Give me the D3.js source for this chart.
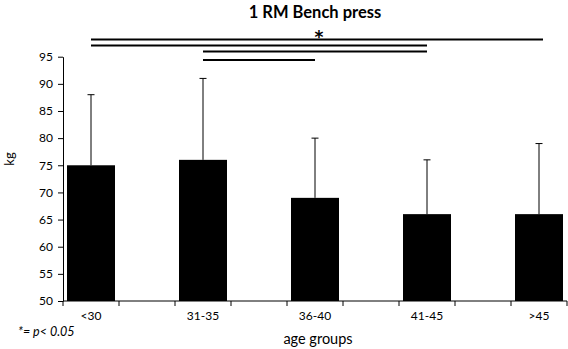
<!DOCTYPE html>
<html><head><meta charset="utf-8">
<script src="https://cdn.jsdelivr.net/npm/d3@7"></script>
<style>
body{margin:0;background:#fff;}
text{font-family:Lato, "Open Sans", sans-serif;fill:#000;}
</style></head>
<body><svg id="c" width="568" height="349"></svg>
<script>
const categories = ["<30","31-35","36-40","41-45",">45"];
const means = [75,76,69,66,66];
const upperErr = [88,91,80,76,79];
const yTicks = [50,55,60,65,70,75,80,85,90,95];
// significance brackets: [fromIndex, toIndex]
const sigPairs = [[0,4],[0,3],[1,3],[1,2]];
const sigLevels = [39.5,45.5,51.5,60];

const svg = d3.select("#c");
// 9 slots: bars on every other slot (Excel-like gaps with tick marks between)
const slots = d3.range(9);
const x = d3.scaleBand().domain(slots).range([63,567]).paddingInner(0.15).paddingOuter(0.075);
const xLin = d3.scaleLinear().domain([0,9]).range([63,567]);
const slotOf = i => i*2;
const cx = i => x(slotOf(i)) + x.bandwidth()/2;
const y = d3.scaleLinear().domain([50,95]).range([301,56.7]);

// bars
svg.append("g").selectAll("rect").data(means).join("rect")
  .attr("x",(d,i)=>cx(i)-24).attr("width",48)
  .attr("y",d=>y(d)).attr("height",d=>y(50)-y(d))
  .attr("fill","#000");

// error bars
const eg = svg.append("g").attr("stroke","#000").attr("stroke-width",1);
upperErr.forEach((e,i)=>{
  eg.append("line").attr("x1",cx(i)).attr("x2",cx(i)).attr("y1",y(means[i])).attr("y2",y(e));
  eg.append("line").attr("x1",cx(i)-3.5).attr("x2",cx(i)+3.5).attr("y1",y(e)).attr("y2",y(e));
});

// y axis
const ya = svg.append("g").attr("transform","translate(63,0)")
  .call(d3.axisLeft(y).tickValues(yTicks).tickSize(5).tickPadding(5).tickSizeOuter(0));
ya.select(".domain").attr("stroke","#000");
ya.selectAll(".tick line").attr("stroke","#000");
ya.selectAll("text").style("font-size","12px").attr("font-family","Lato");

// x axis with ticks at slot boundaries
const xa = svg.append("g").attr("transform","translate(0,301)");
xa.append("line").attr("x1",63).attr("x2",567).attr("stroke","#000");
xa.selectAll("line.t").data(d3.range(10)).join("line").attr("class","t")
  .attr("x1",d=>xLin(d)).attr("x2",d=>xLin(d)).attr("y1",0).attr("y2",5).attr("stroke","#000");
xa.selectAll("text").data(categories).join("text")
  .attr("x",(d,i)=>cx(i)).attr("y",19).attr("text-anchor","middle")
  .style("font-size","12px").text(d=>d);

// significance lines
const sg = svg.append("g").attr("stroke","#000").attr("stroke-width",1.8);
sigPairs.forEach((p,k)=>{
  const x2 = p[1]===4 ? cx(p[1])+4 : cx(p[1]);
  sg.append("line").attr("x1",cx(p[0])).attr("x2",x2).attr("y1",sigLevels[k]).attr("y2",sigLevels[k]);
});
svg.append("text").attr("x",319).attr("y",42.5).attr("text-anchor","middle")
  .style("font-family","DejaVu Sans").style("font-weight","bold").style("font-size","17px").text("*");

// title
svg.append("text").attr("x",315).attr("y",18).attr("text-anchor","middle")
  .style("font-size","16.5px").style("font-weight","bold").text("1 RM Bench press");

// y label
svg.append("text").attr("transform","translate(14,159) rotate(-90)").attr("text-anchor","middle")
  .style("font-size","13px").text("kg");

// x label
svg.append("text").attr("x",318).attr("y",344).attr("text-anchor","middle")
  .style("font-size","14.5px").text("age groups");

// footnote
svg.append("text").attr("x",18).attr("y",336)
  .style("font-size","12.5px").style("font-style","italic").text("*= p< 0.05");
</script></body></html>
